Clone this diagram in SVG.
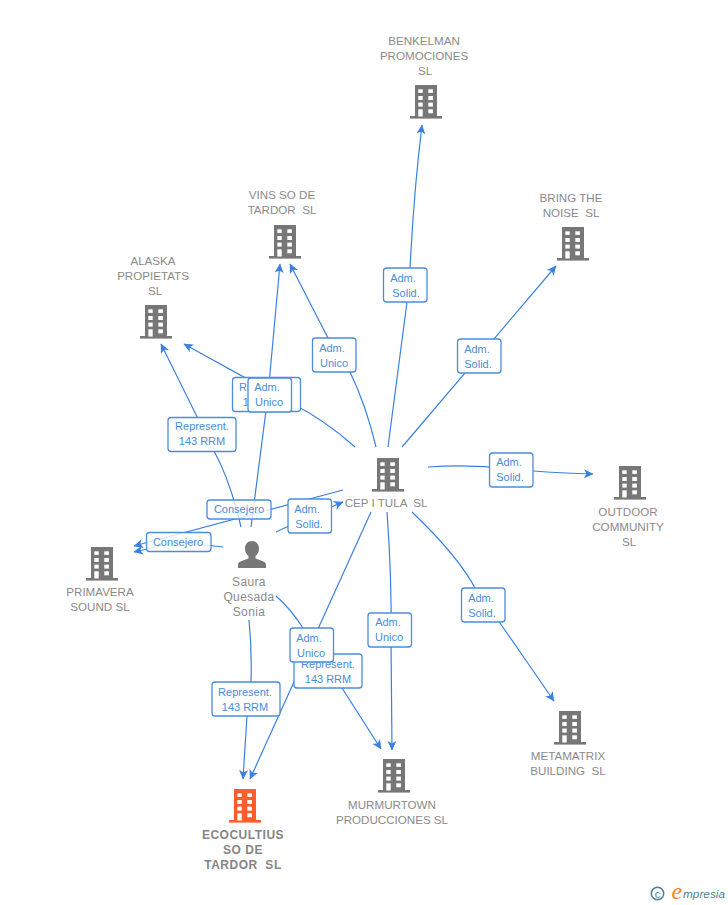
<svg xmlns="http://www.w3.org/2000/svg" width="728" height="905" viewBox="0 0 728 905">
<style>
.e{fill:none;stroke:#3a80e0;stroke-width:1.2;marker-end:url(#a)}
.b{fill:#fff;stroke:#4a8de0;stroke-width:1.3}
.t{fill-opacity:.8}
.l{font:11px "Liberation Sans",Arial,sans-serif;fill:#4a8cdc;text-anchor:middle}
.n{font:11.6px "Liberation Sans",Arial,sans-serif;fill:#8a8a8a;text-anchor:middle}
.p{font:12px "Liberation Sans",Arial,sans-serif;fill:#8a8a8a;text-anchor:middle;letter-spacing:.35px}
.o{font:bold 12px "Liberation Sans",Arial,sans-serif;fill:#858585;text-anchor:middle;letter-spacing:.5px}
</style>
<defs>
<marker id="a" markerUnits="userSpaceOnUse" markerWidth="12" markerHeight="12" refX="9" refY="5" orient="auto"><path d="M0 .5L9.500 5L0 9.500L2.500 5Z" fill="#3a80e0"/></marker>
<g id="bw">
<rect x="8.300" y="4.300" width="4.400" height="3.600" fill="#fff"/><rect x="18.300" y="4.300" width="4.600" height="3.600" fill="#fff"/>
<rect x="8.300" y="11" width="4.400" height="4" fill="#fff"/><rect x="18.300" y="11" width="4.600" height="4" fill="#fff"/>
<rect x="8.300" y="17.600" width="4.400" height="4" fill="#fff"/><rect x="18.300" y="17.600" width="4.600" height="4" fill="#fff"/>
<rect x="8.300" y="24.300" width="4.400" height="7.200" fill="#fff"/><rect x="18.300" y="24.300" width="4.600" height="4" fill="#fff"/>
</g>
<g id="bld"><rect x="5" width="22" height="32" fill="#777"/><rect y="31" width="32" height="2.600" fill="#777"/><use href="#bw"/></g>
<g id="bldo"><rect x="5" width="22" height="32" fill="#ff5c2b"/><rect y="31" width="32" height="2.600" fill="#ff5c2b"/><use href="#bw"/></g>
</defs>
<g id="connectors">
<path class="e" d="M388 447L407 302L410 268Q414 190 422 125"/>
<path class="e" d="M402 447L556 266"/>
<path class="e" d="M428 467Q470 464 510 469Q550 473 593 474"/>
<path class="e" d="M412 512Q460 558 476 590L500 623L554 701"/>
<path class="e" d="M387 512Q392 580 391 640L392 750"/>
<path class="e" d="M371 512L250 779"/>
<path class="e" d="M376 447Q366 405 350 372L328 338L290 264"/>
<path class="e" d="M355 447Q325 420 291 403L184 344"/>
<path class="e" d="M343 490L134 546"/>
<path class="e" d="M241 527Q230 480 214 451L161 344"/>
<path class="e" d="M251 527L268 395L280 264"/>
<path class="e" d="M223 547L178 542L134 552"/>
<path class="e" d="M276 532L310 516L343 502"/>
<path class="e" d="M249 620Q252 650 251 682L247 716L243 779"/>
<path class="e" d="M276 596Q290 608 303 628L342 688L381 749"/>
</g>
<g id="edge-labels">
<g><rect class="b" x="383.500" y="268" width="43.500" height="34" rx="3"/><text class="l" x="403" y="282">Adm.</text><text class="l" x="406" y="297">Solid.</text></g>
<g><rect class="b" x="457.500" y="339" width="43.500" height="34" rx="3"/><text class="l" x="477" y="353">Adm.</text><text class="l" x="478" y="368">Solid.</text></g>
<g><rect class="b" x="312.500" y="338" width="43.500" height="34" rx="3"/><text class="l" x="332" y="352">Adm.</text><text class="l" x="334" y="367">Unico</text></g>
<g><rect class="b" x="232.500" y="377.500" width="68" height="34" rx="3"/><text class="l" x="266" y="391">Represent.</text><text class="l" x="266" y="406">143 RRM</text></g>
<g><rect class="b" x="248" y="378" width="43.500" height="34" rx="3"/><text class="l" x="267" y="391">Adm.</text><text class="l" x="269" y="406">Unico</text></g>
<g><rect class="b" x="168" y="417.500" width="68" height="34" rx="3"/><text class="l" x="202" y="430">Represent.</text><text class="l" x="202" y="445">143 RRM</text></g>
<g><rect class="b" x="489.500" y="453" width="43.500" height="34" rx="3"/><text class="l" x="509" y="466">Adm.</text><text class="l" x="510" y="481">Solid.</text></g>
<g><rect class="b t" x="207" y="500" width="64" height="19" rx="3"/><text class="l" x="239" y="513">Consejero</text></g>
<g><rect class="b" x="288" y="499" width="43.500" height="34" rx="3"/><text class="l" x="307" y="513">Adm.</text><text class="l" x="309" y="528">Solid.</text></g>
<g><rect class="b t" x="146.500" y="532.500" width="64.500" height="19" rx="3"/><text class="l" x="178" y="546">Consejero</text></g>
<g><rect class="b" x="461.500" y="588" width="43.500" height="34" rx="3"/><text class="l" x="481" y="602">Adm.</text><text class="l" x="482" y="617">Solid.</text></g>
<g><rect class="b" x="368" y="613" width="43.500" height="34" rx="3"/><text class="l" x="388" y="626">Adm.</text><text class="l" x="389" y="641">Unico</text></g>
<g><rect class="b" x="294" y="654" width="68" height="34" rx="3"/><text class="l" x="328" y="668">Represent.</text><text class="l" x="328" y="683">143 RRM</text></g>
<g><rect class="b" x="290" y="628" width="43.500" height="34" rx="3"/><text class="l" x="309" y="642">Adm.</text><text class="l" x="311" y="657">Unico</text></g>
<g><rect class="b" x="212" y="682" width="68" height="34" rx="3"/><text class="l" x="245" y="696">Represent.</text><text class="l" x="245" y="711">143 RRM</text></g>
</g>
<g id="benkelman"><use href="#bld" x="410" y="85"/><text class="n" x="424" y="45">BENKELMAN</text><text class="n" x="424" y="60">PROMOCIONES</text><text class="n" x="425" y="75">SL</text></g>
<g id="vins"><use href="#bld" x="269" y="225"/><text class="n" x="282" y="199">VINS SO DE</text><text class="n" x="282" y="214" xml:space="preserve">TARDOR  SL</text></g>
<g id="bring"><use href="#bld" x="557" y="227"/><text class="n" x="571" y="202">BRING THE</text><text class="n" x="571" y="217" xml:space="preserve">NOISE  SL</text></g>
<g id="alaska"><use href="#bld" x="140" y="305"/><text class="n" x="153" y="265">ALASKA</text><text class="n" x="153" y="280">PROPIETATS</text><text class="n" x="155" y="295">SL</text></g>
<g id="cep"><use href="#bld" x="372" y="458"/><text class="n" x="386" y="507" xml:space="preserve">CEP I TULA  SL</text></g>
<g id="outdoor"><use href="#bld" x="614" y="466"/><text class="n" x="628" y="516">OUTDOOR</text><text class="n" x="628" y="531">COMMUNITY</text><text class="n" x="629" y="546">SL</text></g>
<g id="primavera"><use href="#bld" x="86" y="547"/><text class="n" x="100" y="596">PRIMAVERA</text><text class="n" x="100" y="611">SOUND SL</text></g>
<g id="metamatrix"><use href="#bld" x="554" y="711"/><text class="n" x="568" y="760">METAMATRIX</text><text class="n" x="568" y="775" xml:space="preserve">BUILDING  SL</text></g>
<g id="murmurtown"><use href="#bld" x="378" y="759"/><text class="n" x="392" y="809">MURMURTOWN</text><text class="n" x="392" y="824">PRODUCCIONES SL</text></g>
<g id="ecocultius"><use href="#bldo" x="229" y="789"/><text class="o" x="243" y="839">ECOCULTIUS</text><text class="o" x="243" y="854">SO DE</text><text class="o" x="243" y="869" xml:space="preserve">TARDOR  SL</text></g>
<g id="saura"><path d="M252 541c4.500 0 7 3.500 7 7.500 0 3.500-1.500 6-3.500 7.500v2.500c4 1.500 10 3 10.500 5.500v4h-28v-4c.5-2.500 6.500-4 10.500-5.500v-2.500c-2-1.500-3.500-4-3.500-7.500 0-4 2.500-7.500 7-7.500z" fill="#777"/><text class="p" x="249" y="586">Saura</text><text class="p" x="249" y="601">Quesada</text><text class="p" x="249" y="616">Sonia</text></g>
<g id="logo"><circle cx="657.500" cy="893.500" r="6.200" fill="none" stroke="#4d7f93" stroke-width="1.500"/><text x="657.500" y="897.500" font-family="Liberation Sans,sans-serif" font-size="11" fill="#4d7f93" text-anchor="middle">c</text><text x="671.500" y="899" font-family="Liberation Serif,serif" font-style="italic" font-size="24" fill="#f58220">e</text><text x="683" y="898" font-family="Liberation Sans,sans-serif" font-style="italic" font-size="11.800" fill="#4d7f93">mpresia</text></g>
</svg>
